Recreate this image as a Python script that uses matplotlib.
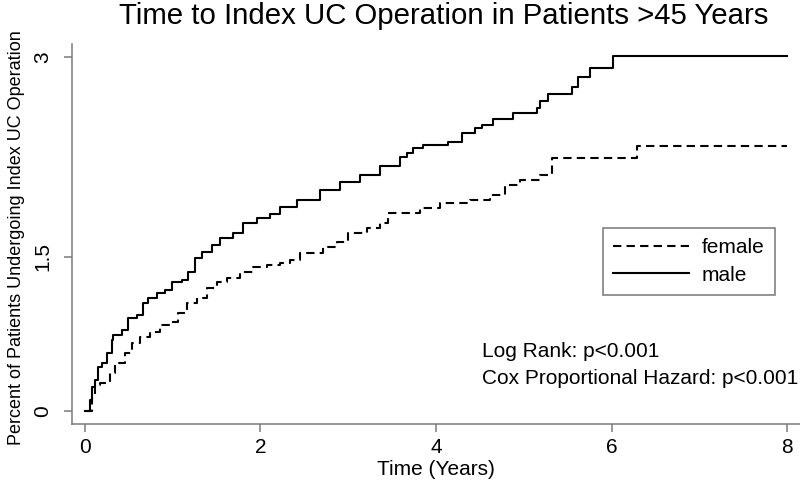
import matplotlib
matplotlib.use("Agg")
import matplotlib.pyplot as plt

plt.rcParams['font.family'] = ['Liberation Sans', 'DejaVu Sans']

title = "Time to Index UC Operation in Patients >45 Years"
xlabel = "Time (Years)"
ylabel = "Percent of Patients Undergoing Index UC Operation"
xticks = [0, 2, 4, 6, 8]
ytick_pos = [0, 1.306, 3]
ytick_labels = ["0", "1.5", "3"]

male_t = [0, 0.057, 0.083, 0.114, 0.152, 0.190, 0.247, 0.304, 0.323, 0.418, 0.493, 0.589,
          0.664, 0.721, 0.817, 0.912, 0.988, 1.102, 1.177, 1.254, 1.330, 1.444, 1.538,
          1.690, 1.804, 1.957, 2.108, 2.222, 2.413, 2.678, 2.906, 3.134, 3.362, 3.590,
          3.666, 3.741, 3.855, 4.140, 4.293, 4.444, 4.521, 4.653, 4.881, 5.148, 5.185,
          5.280, 5.546, 5.622, 5.755, 6.014, 8.0]
male_y = [0, 0.091, 0.204, 0.260, 0.373, 0.402, 0.487, 0.600, 0.642, 0.684, 0.784, 0.812,
          0.911, 0.953, 0.996, 1.024, 1.094, 1.109, 1.179, 1.293, 1.349, 1.405, 1.462,
          1.505, 1.589, 1.632, 1.668, 1.730, 1.787, 1.872, 1.940, 2.000, 2.076, 2.154,
          2.183, 2.226, 2.254, 2.282, 2.353, 2.395, 2.423, 2.472, 2.522, 2.565, 2.629,
          2.684, 2.748, 2.833, 2.909, 3.008, 3.008]

female_t = [0, 0.076, 0.114, 0.171, 0.285, 0.342, 0.456, 0.532, 0.627, 0.741, 0.855, 0.969,
            1.063, 1.159, 1.273, 1.387, 1.501, 1.615, 1.766, 1.918, 2.071, 2.222, 2.336,
            2.450, 2.716, 2.868, 3.001, 3.210, 3.362, 3.456, 3.818, 4.046, 4.387, 4.615,
            4.786, 4.957, 5.185, 5.318, 6.287, 8.0]
female_y = [0, 0.119, 0.218, 0.232, 0.317, 0.402, 0.487, 0.572, 0.628, 0.670, 0.727, 0.755,
            0.826, 0.911, 0.953, 1.038, 1.094, 1.123, 1.179, 1.221, 1.236, 1.250, 1.278,
            1.335, 1.391, 1.433, 1.505, 1.547, 1.589, 1.674, 1.719, 1.762, 1.787, 1.830,
            1.914, 1.957, 1.999, 2.141, 2.245, 2.245]

annot = ["Log Rank: p<0.001", "Cox Proportional Hazard: p<0.001"]

fig = plt.figure(figsize=(8.0, 4.98), dpi=100)
ax = fig.add_axes([0.09, 0.1486, 0.91, 0.763])

ax.plot(female_t, female_y, color='black', lw=1.5, drawstyle='steps-post',
        dashes=(4, 2.5), label='female')
ax.plot(male_t, male_y, color='black', lw=1.5, drawstyle='steps-post', label='male')

ax.set_xlim(-0.148, 8.148)
ax.set_ylim(-0.113, 3.110)

for s in ['top', 'right']:
    ax.spines[s].set_visible(False)
for s in ['left', 'bottom']:
    ax.spines[s].set_color('#7a7a7a')
    ax.spines[s].set_linewidth(1.1)

ax.set_xticks(xticks)
ax.set_xticklabels([str(v) for v in xticks])
ax.set_yticks(ytick_pos)
ax.set_yticklabels(ytick_labels, rotation=90, va='center')
ax.tick_params(axis='both', colors='#7a7a7a', labelcolor='black', labelsize=15,
               length=6, width=1.1, direction='out')
ax.tick_params(axis='x', pad=4)
ax.tick_params(axis='y', pad=8)

ax.set_xlabel(xlabel, fontsize=15, labelpad=2)
ax.set_ylabel(ylabel, fontsize=13)
ax.yaxis.set_label_coords(-0.064, 0.49)
fig.suptitle(title, fontsize=21.2, x=0.554, y=0.995, va='top')

ax.text(4.524, 0.498, annot[0], fontsize=15, va='center', ha='left')
ax.text(4.524, 0.277, annot[1], fontsize=15, va='center', ha='left')

leg = ax.legend(loc='upper left', bbox_to_anchor=(0.729, 0.516), fontsize=15,
                frameon=True, fancybox=False, handlelength=3.65, handletextpad=0.6,
                labelspacing=0.4, borderpad=0.5, borderaxespad=0)
leg.get_frame().set_edgecolor('#555555')
leg.get_frame().set_linewidth(1.1)

fig.savefig("out.png", dpi=100, facecolor='white')
